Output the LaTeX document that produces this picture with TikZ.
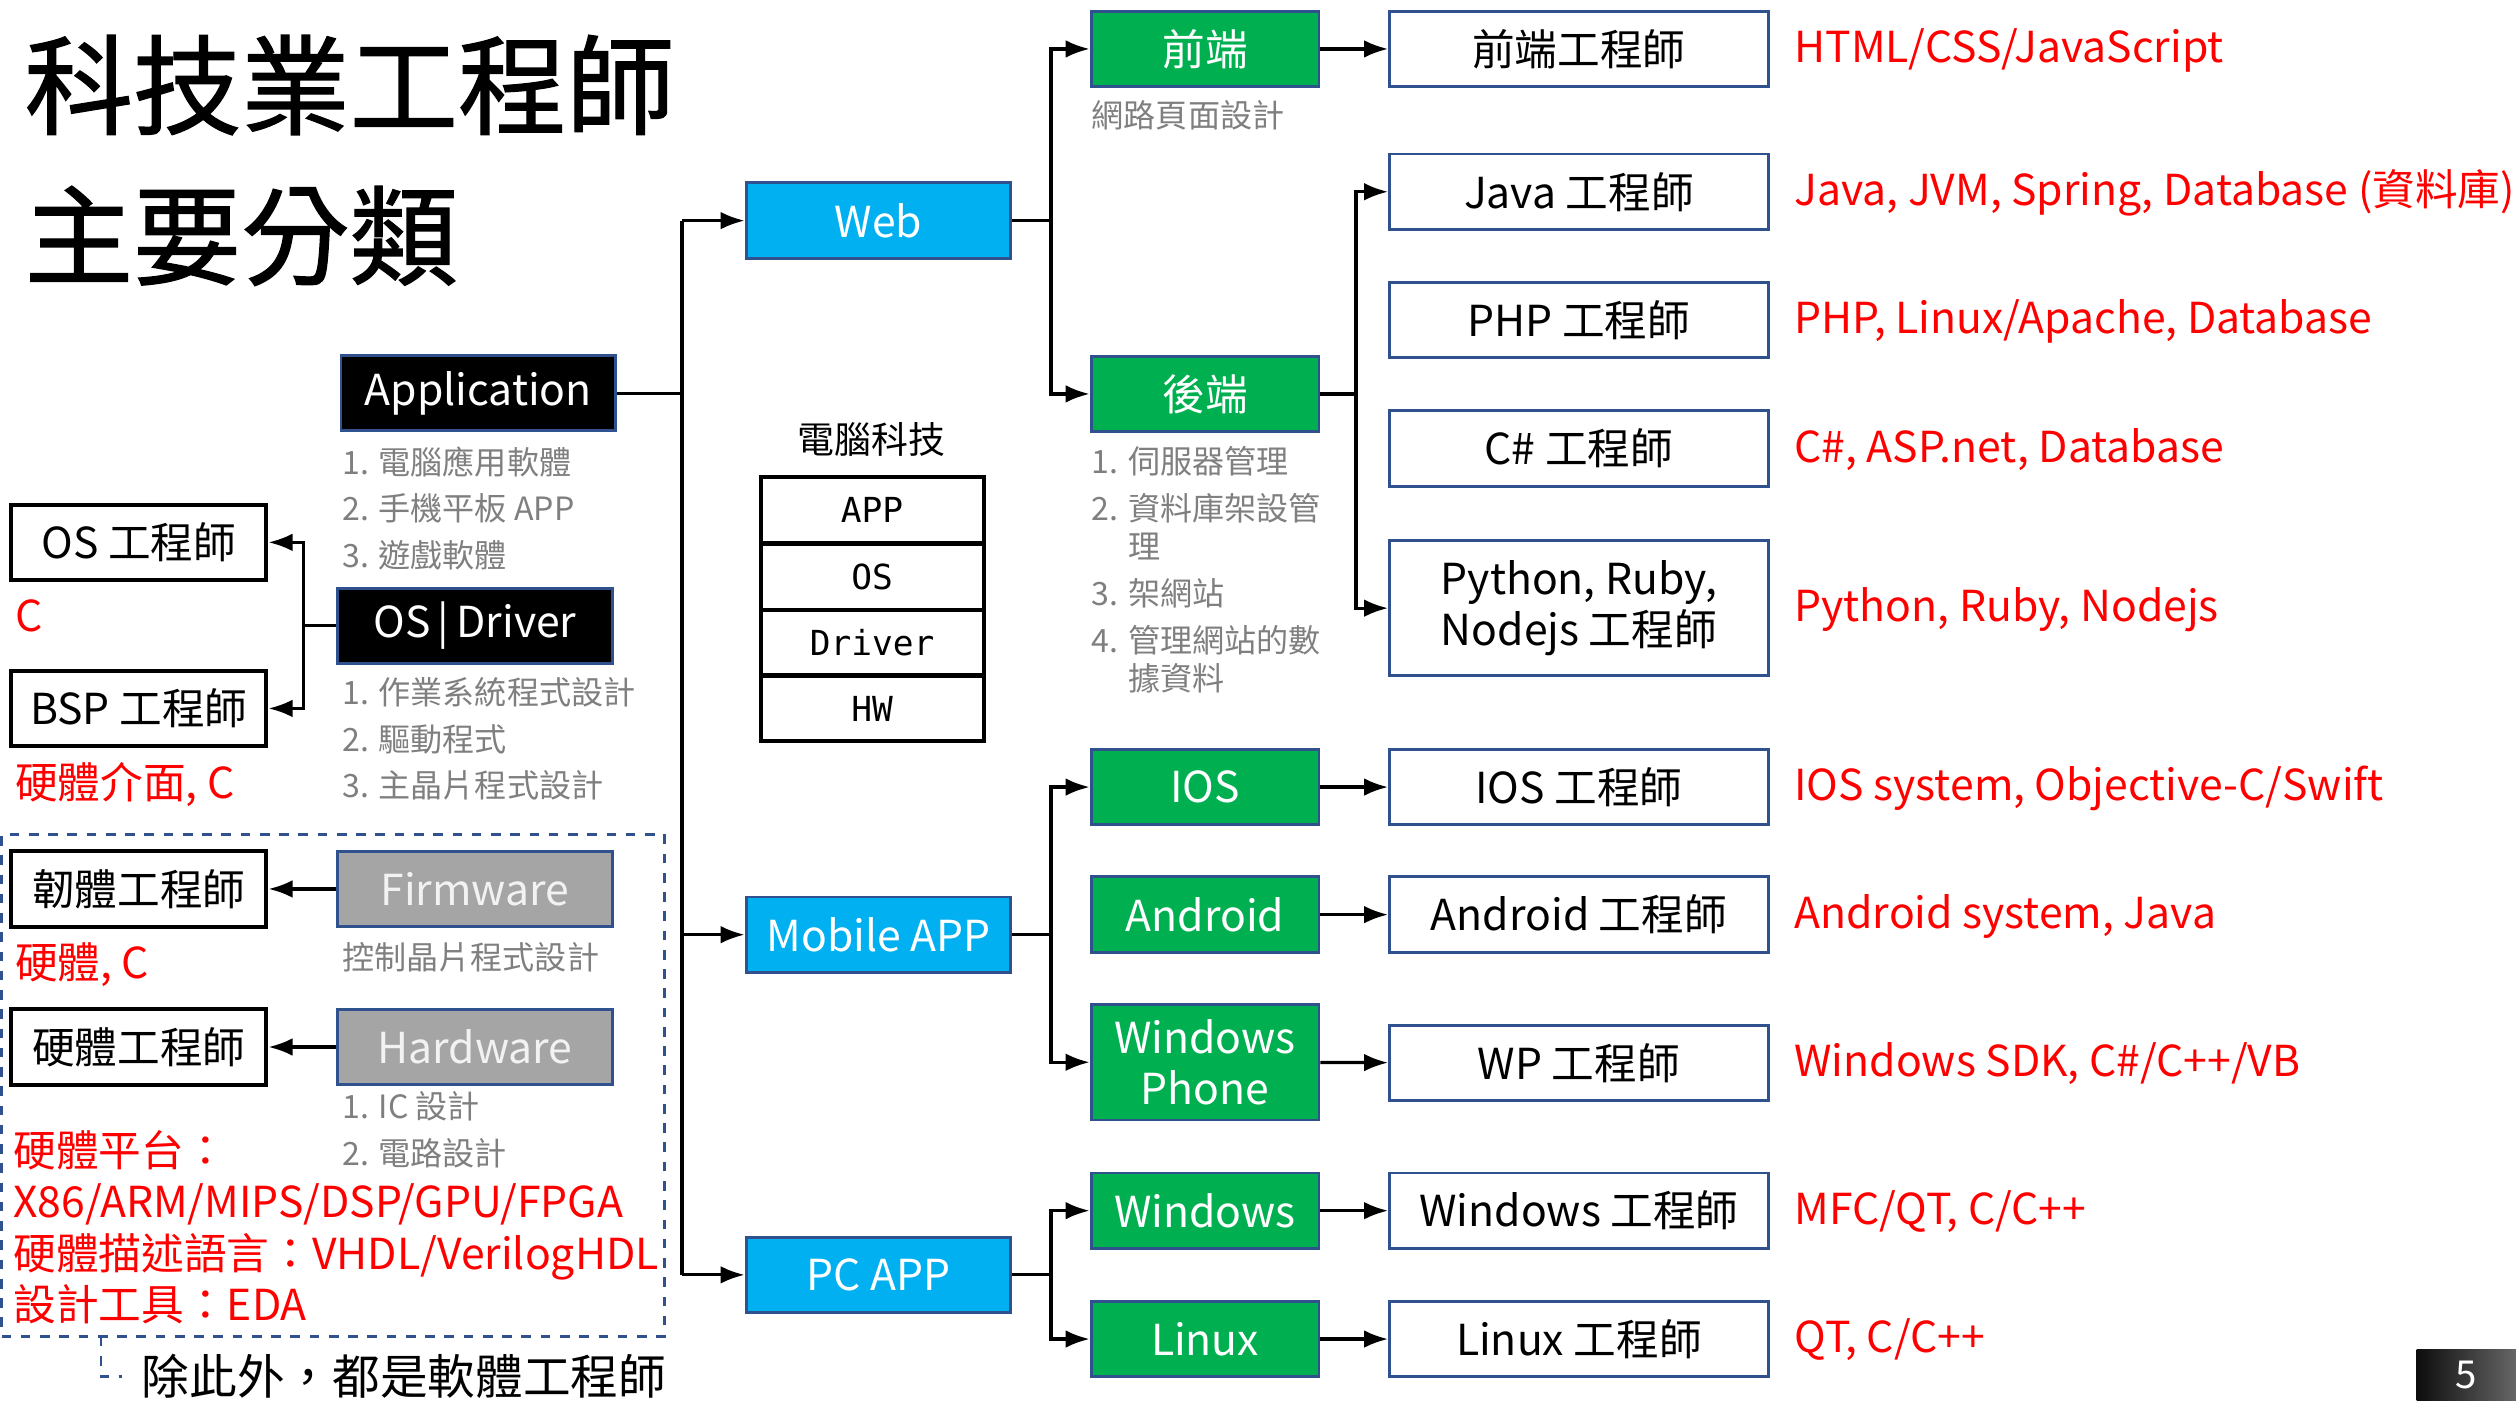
\documentclass[tikz,border=0pt]{standalone}
\usepackage{fontspec}
\setmainfont{Noto Sans CJK TC}
\newfontfamily\stackfont{DejaVu Sans Mono}
\newfontfamily\titlefont[FakeBold=1.2]{Noto Sans CJK TC}
\usetikzlibrary{arrows.meta, positioning}
\definecolor{bordblue}{HTML}{2F528F}
\definecolor{webblue}{HTML}{00B0F0}
\definecolor{osgreen}{HTML}{00B050}
\definecolor{boxgray}{HTML}{A5A5A5}
\definecolor{offwhite}{HTML}{F2F2F2}
\definecolor{notegray}{HTML}{7F7F7F}
\newcommand\boxfont{\fontsize{13.3}{16}\selectfont}
\newcommand\notefont{\fontsize{10}{14.5}\selectfont}

\begin{document}
\begin{tikzpicture}[x=0.5pt, y=-0.5pt, >={Latex[length=7.5pt,width=5.5pt]},
  every node/.style={inner sep=0pt},
  link/.style={line width=1pt},
  tierbox/.style={draw=bordblue, line width=0.9pt, minimum width=85.5pt, minimum height=23.5pt, font=\boxfont},
  leftbox/.style={draw=black, line width=1.3pt, fill=white, minimum width=79.5pt, minimum height=23.5pt, font=\boxfont},
  catbox/.style={draw=bordblue, line width=0.9pt, fill=webblue, text=white, minimum width=82.5pt, minimum height=23.5pt, font=\boxfont},
  osbox/.style={draw=bordblue, line width=0.9pt, fill=osgreen, text=white, minimum width=71pt, minimum height=23.5pt, font=\boxfont},
  engbox/.style={draw=bordblue, line width=0.9pt, fill=white, minimum width=118pt, minimum height=23.5pt, font=\boxfont},
  tech/.style={text=red, font=\boxfont, text height=10pt, text depth=1.4pt},
  redlbl/.style={text=red, anchor=west, font=\boxfont, text height=10pt, text depth=1.4pt},
  note/.style={text=notegray, anchor=north west, align=left, font=\notefont},
  stackcell/.style={draw=black, line width=1.3pt, minimum width=69.5pt, minimum height=20.5pt, font=\stackfont\fontsize{10.75}{12}\selectfont}]
  \useasboundingbox (0,0) rectangle (1568,873);

  % title
  \node[anchor=west, font=\titlefont\fontsize{33.75}{40}\selectfont] (ttl1) at (15,53) {科技業工程師};
  \node[anchor=west, font=\titlefont\fontsize{33.75}{40}\selectfont] (ttl2) at (15,147) {主要分類};

  % hardware zone
  \node[draw=bordblue, dashed, line width=0.8pt, minimum width=206.5pt, minimum height=156.5pt] (hwzone) at (207.5,676.5) {};
  \coordinate (zonefoot) at (63,833);
  \node[anchor=west, font=\fontsize{14.85}{16}\selectfont] (swnote) at (88,858) {除此外，都是軟體工程師};
  \draw[bordblue, dashed, line width=0.8pt] (zonefoot) |- ([xshift=-6pt]swnote.west);

  % layers
  \node[tierbox, fill=black, text=white] (app) at (298,245) {Application};
  \node[tierbox, fill=black, text=white] (osd) at (296,390) {OS\,|\,Driver};
  \node[tierbox, fill=boxgray, text=offwhite] (fw) at (296,554) {Firmware};
  \node[tierbox, fill=boxgray, text=offwhite] (hwb) at (296,652.5) {Hardware};

  \node[note] (appnote) at (213,278) {1. 電腦應用軟體\\2. 手機平板 APP\\3. 遊戲軟體};
  \node[note] (osnote) at (213,422) {1. 作業系統程式設計\\2. 驅動程式\\3. 主晶片程式設計};
  \node[note] (fwnote) at (213,587) {控制晶片程式設計};
  \node[note] (hwnote) at (213,680) {1. IC 設計\\2. 電路設計};

  % left engineers
  \node[leftbox] (oseng) at (86.5,338) {OS 工程師};
  \node[leftbox] (bsp) at (86.5,441.5) {BSP 工程師};
  \node[leftbox] (fweng) at (86.5,554) {韌體工程師};
  \node[leftbox] (hweng) at (86.5,652.5) {硬體工程師};

  \node[redlbl] (oslbl) at (9,385) {C};
  \node[redlbl] (bsplbl) at (9,489) {硬體介面, C};
  \node[redlbl] (fwlbl) at (9,601) {硬體, C};
  \node[text=red, anchor=north west, align=left, font=\fontsize{13.3}{16}\selectfont] (hwlbl) at (8,704)
    {硬體平台：\\X86/ARM/MIPS/DSP/GPU/FPGA\\硬體描述語言：VHDL/VerilogHDL\\設計工具：EDA};

  % computer stack
  \node[font=\fontsize{11.5}{14}\selectfont] (stk) at (543,274) {電腦科技};
  \node[stackcell] (sapp) at (543.5,318) {APP};
  \node[stackcell] (sos) at (543.5,359.5) {OS};
  \node[stackcell] (sdrv) at (543.5,400.5) {Driver};
  \node[stackcell] (shw) at (543.5,441.5) {HW};

  % categories
  \node[catbox] (web) at (547.5,137.5) {Web};
  \node[catbox] (mob) at (547.5,582.5) {Mobile APP};
  \node[catbox] (pc) at (547.5,794.5) {PC APP};

  \node[osbox] (fe) at (751,30.5) {前端};
  \node[osbox] (be) at (751,245.5) {後端};
  \node[osbox] (ios) at (751,490.5) {IOS};
  \node[osbox] (andr) at (751,570) {Android};
  \node[osbox, minimum height=36pt, align=center] (wp) at (751,662) {Windows\\Phone};
  \node[osbox] (win) at (751,754.5) {Windows};
  \node[osbox] (lin) at (751,834.5) {Linux};

  \node[note] (fenote) at (680,62) {網路頁面設計};
  \node[note, font=\fontsize{10}{12}\selectfont] (benote) at (680,278)
    {1. 伺服器管理\\[2.5pt]2. 資料庫架設管\\\hspace*{11.5pt}理\\[2.5pt]3. 架網站\\[2.5pt]4. 管理網站的數\\\hspace*{11.5pt}據資料};

  % engineers
  \node[engbox] (feeng) at (984,30.5) {前端工程師};
  \node[engbox] (javaeng) at (984,119.5) {Java 工程師};
  \node[engbox] (phpeng) at (984,199.5) {PHP 工程師};
  \node[engbox] (cseng) at (984,279.5) {C\# 工程師};
  \node[engbox, minimum height=42pt, align=center] (pyeng) at (984,379) {Python, Ruby,\\Nodejs 工程師};
  \node[engbox] (ioseng) at (984,490.5) {IOS 工程師};
  \node[engbox] (andeng) at (984,570) {Android 工程師};
  \node[engbox] (wpeng) at (984,662.5) {WP 工程師};
  \node[engbox] (wineng) at (984,754.5) {Windows 工程師};
  \node[engbox] (lineng) at (984,834.5) {Linux 工程師};

  \node[tech, right=7.5pt of feeng] (fetech) {HTML/CSS/JavaScript};
  \node[tech, right=7.5pt of javaeng] (javatech) {Java, JVM, Spring, Database (資料庫)};
  \node[tech, right=7.5pt of phpeng] (phptech) {PHP, Linux/Apache, Database};
  \node[tech, right=7.5pt of cseng] (cstech) {C\#, ASP.net, Database};
  \node[tech, right=7.5pt of pyeng] (pytech) {Python, Ruby, Nodejs};
  \node[tech, right=7.5pt of ioseng] (iostech) {IOS system, Objective-C/Swift};
  \node[tech, right=7.5pt of andeng] (andtech) {Android system, Java};
  \node[tech, right=7.5pt of wpeng] (wptech) {Windows SDK, C\#/C++/VB};
  \node[tech, right=7.5pt of wineng] (wintech) {MFC/QT, C/C++};
  \node[tech, right=7.5pt of lineng] (lintech) {QT, C/C++};

  % page number
  \node[left color=black!95, right color=black!60, text=white, minimum width=31pt, minimum height=16pt,
    font=\fontsize{12}{14}\selectfont] (pgno) at (1537,857) {5};

  % connectors
  \coordinate (trunk) at (425,245);
  \draw[link] (app.east) -- (trunk);
  \draw[link] (trunk |- web) -- (trunk |- pc);
  \draw[link, ->] (trunk |- web) -- (web);
  \draw[link, ->] (trunk |- mob) -- (mob);
  \draw[link, ->] (trunk |- pc) -- (pc);

  \coordinate (webfork) at (655,137.5);
  \draw[link, ->] (web.east) -- (webfork) |- (fe);
  \draw[link, ->] (webfork) |- (be);
  \coordinate (befork) at (845,245.5);
  \draw[link, ->] (be.east) -- (befork) |- (javaeng);
  \draw[link, ->] (befork) |- (pyeng);
  \draw[link, ->] (fe) -- (feeng);

  \coordinate (mobfork) at (655,582.5);
  \draw[link, ->] (mob.east) -- (mobfork) |- (ios);
  \draw[link, ->] (mobfork) |- (wp);
  \coordinate (pcfork) at (655,794.5);
  \draw[link, ->] (pc.east) -- (pcfork) |- (win);
  \draw[link, ->] (pcfork) |- (lin);

  \draw[link, ->] (ios) -- (ioseng);
  \draw[link, ->] (andr) -- (andeng);
  \draw[link, ->] (wp) -- (wpeng);
  \draw[link, ->] (win) -- (wineng);
  \draw[link, ->] (lin) -- (lineng);

  \coordinate (osfork) at (189,390);
  \draw[link, ->] (osd.west) -- (osfork) |- (oseng);
  \draw[link, ->] (osfork) |- (bsp);
  \draw[link, ->] (fw) -- (fweng);
  \draw[link, ->] (hwb) -- (hweng);
\end{tikzpicture}
\end{document}
